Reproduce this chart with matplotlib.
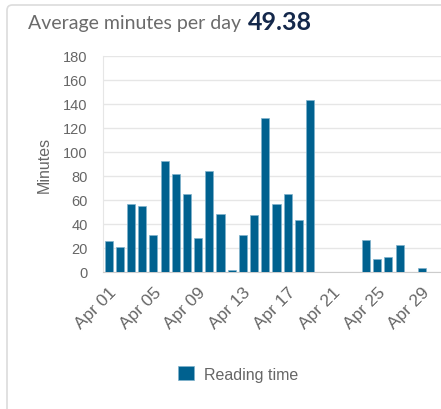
import matplotlib.pyplot as plt
from matplotlib.patches import FancyBboxPatch
import numpy as np

DAYS = [f"Apr {d:02d}" for d in range(1, 31)]
MINUTES = [25.5, 20.8, 56.8, 54.8, 30.5, 92.2, 81.7, 65.0, 28.5, 83.9,
           48.2, 1.5, 30.5, 47.6, 128.2, 57.0, 64.5, 43.2, 143.2, 0,
           0, 0, 0, 26.6, 10.8, 12.7, 22.2, 0, 3.0, 0]
AVERAGE = 49.38

BAR_COLOR = '#00618f'
TEXT_GRAY = '#666666'

W, H = 441, 410

plt.rcParams['font.family'] = ['Liberation Sans', 'DejaVu Sans']

fig = plt.figure(figsize=(W / 100, H / 100), dpi=100)

# card border
card = FancyBboxPatch((7 / W, -0.2), 1.2, 1.2 - 6 / H,
                      boxstyle="round,pad=0,rounding_size=0.012",
                      mutation_aspect=W / H,
                      transform=fig.transFigure, facecolor='white',
                      edgecolor='#dcdcdc', linewidth=1.2, zorder=-1)
fig.patches.append(card)

fig.text(28 / W, 1 - 23 / H, "Average minutes per day", family='Lato',
         fontsize=14, color='#6b6b6b', va='center', ha='left')
fig.text(248 / W, 1 - 22 / H, f"{AVERAGE:.2f}", family='Lato',
         fontsize=18, fontweight='bold', color='#14284b', va='center', ha='left')

ax = fig.add_axes([103 / W, 137 / H, (441 - 103) / W, (273 - 56.7) / H])
ax.set_zorder(2)
x = np.arange(len(DAYS))
bars = ax.bar(x, MINUTES, width=0.72, color=BAR_COLOR, edgecolor='#7fb2cc',
              linewidth=0.5, label='Reading time', zorder=3)

ax.set_xlim(-0.5, 29.7)
ax.set_ylim(0, 180)
ax.set_yticks(range(0, 181, 20))
ax.set_xticks(x[::4])
ax.set_xticklabels(DAYS[::4], rotation=45, ha='right', rotation_mode='anchor')
ax.tick_params(axis='y', length=0, pad=11, labelsize=10.5, labelcolor=TEXT_GRAY)
ax.tick_params(axis='x', length=0, pad=9, labelsize=12.5, labelcolor=TEXT_GRAY)
ax.grid(axis='y', color='#e6e6e6', linewidth=1, zorder=0)
for side in ['top', 'right']:
    ax.spines[side].set_visible(False)
ax.spines['left'].set_color('#e6e6e6')
ax.spines['bottom'].set_color('#cccccc')
ax.set_ylabel("Minutes", fontsize=11.5, color=TEXT_GRAY, labelpad=8)
ax.patch.set_alpha(0)

fig.legend(handles=[bars], labels=['Reading time'], loc='center',
           bbox_to_anchor=(238 / W, 1 - 375 / H), frameon=False,
           fontsize=11.5, labelcolor=TEXT_GRAY, handlelength=1.0,
           handleheight=1.0, handletextpad=0.6)

fig.savefig('out.png', dpi=100)
